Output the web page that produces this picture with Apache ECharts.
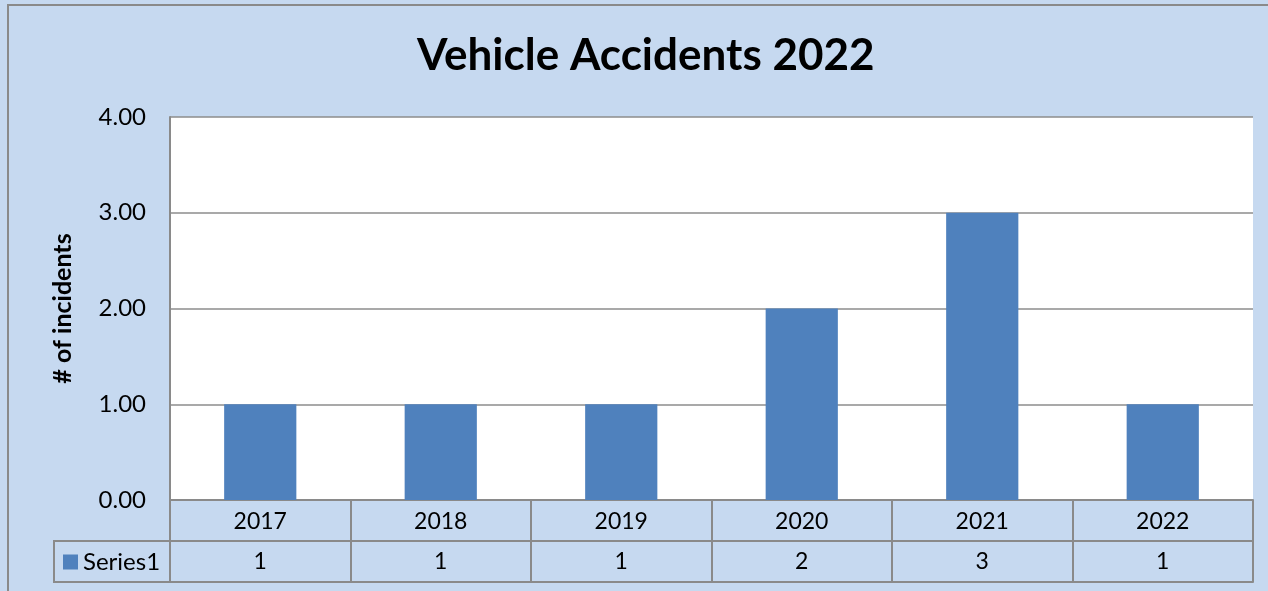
<!DOCTYPE html>
<html>
<head>
<meta charset="utf-8">
<script src="https://cdn.jsdelivr.net/npm/echarts@6/dist/echarts.min.js"></script>
<style>
html, body { margin: 0; padding: 0; background: #c6d9f0; }
#main { width: 1268px; height: 591px; }
</style>
</head>
<body>
<div id="main"></div>
<script>
var years = ['2017', '2018', '2019', '2020', '2021', '2022'];
var incidents = [1, 1, 1, 2, 3, 1];
var seriesName = 'Series1';
var yTicks = [0, 1, 2, 3, 4];

var tableLine = '#8a8a8a';
var fontFam = 'Lato';

var myChart = echarts.init(document.getElementById('main'));

var option = {
    backgroundColor: '#c6d9f0',
    animation: false,
    title: {
        text: 'Vehicle Accidents 2022',
        left: 412,
        top: 29,
        textStyle: {
            fontFamily: fontFam,
            fontSize: 44,
            fontWeight: 'bold',
            color: '#000000'
        }
    },
    legend: {
        data: [seriesName],
        left: 58,
        top: 545,
        icon: 'rect',
        itemWidth: 15,
        itemHeight: 15,
        itemGap: 6,
        textStyle: {
            fontFamily: fontFam,
            fontSize: 24,
            color: '#000000'
        }
    },
    graphic: [
        {
            type: 'rect',
            shape: { x: 8, y: 5, width: 1300, height: 700 },
            style: { fill: 'none', stroke: '#8a8a8a', lineWidth: 2 },
            silent: true
        },
        {
            type: 'rect',
            shape: { x: 54, y: 541, width: 116, height: 41 },
            style: { fill: 'none', stroke: tableLine, lineWidth: 2 },
            silent: true,
            z: 10
        }
    ],
    grid: {
        left: 170,
        right: 15,
        top: 117,
        bottom: 91,
        show: true,
        backgroundColor: '#ffffff',
        borderWidth: 0
    },
    xAxis: [
        {
            type: 'category',
            data: years,
            position: 'bottom',
            axisLine: { show: true, lineStyle: { color: tableLine, width: 2 } },
            axisTick: { show: true, length: 41, lineStyle: { color: tableLine, width: 2 } },
            axisLabel: {
                margin: 10,
                fontFamily: fontFam,
                fontSize: 23,
                color: '#000000'
            }
        },
        {
            type: 'category',
            data: years,
            position: 'bottom',
            offset: 41,
            axisLine: { show: true, lineStyle: { color: tableLine, width: 2 } },
            axisTick: { show: true, length: 41, lineStyle: { color: tableLine, width: 2 } },
            axisLabel: {
                margin: 9,
                fontFamily: fontFam,
                fontSize: 23,
                color: '#000000',
                formatter: function (value, index) {
                    return String(incidents[index]);
                }
            }
        },
        {
            type: 'category',
            data: years,
            position: 'bottom',
            offset: 82,
            axisLine: { show: true, lineStyle: { color: tableLine, width: 2 } },
            axisTick: { show: false },
            axisLabel: { show: false }
        }
    ],
    yAxis: {
        type: 'value',
        min: yTicks[0],
        max: yTicks[yTicks.length - 1],
        interval: 1,
        name: '# of incidents',
        nameLocation: 'middle',
        nameGap: 95,
        nameTextStyle: {
            fontFamily: fontFam,
            fontSize: 25,
            fontWeight: 'bold',
            color: '#000000'
        },
        axisLine: { show: true, lineStyle: { color: tableLine, width: 2 } },
        axisTick: { show: false },
        axisLabel: {
            margin: 24,
            fontFamily: fontFam,
            fontSize: 24,
            color: '#000000',
            formatter: function (v) { return v.toFixed(2); }
        },
        splitLine: { show: true, lineStyle: { color: '#8c8c8c', width: 1.5 } }
    },
    series: [
        {
            name: seriesName,
            type: 'bar',
            xAxisIndex: 0,
            data: incidents,
            barWidth: '40%',
            itemStyle: { color: '#4f81bd' }
        }
    ]
};

myChart.setOption(option);

window.onresize = function () {
    myChart.resize();
};
</script>
</body>
</html>
